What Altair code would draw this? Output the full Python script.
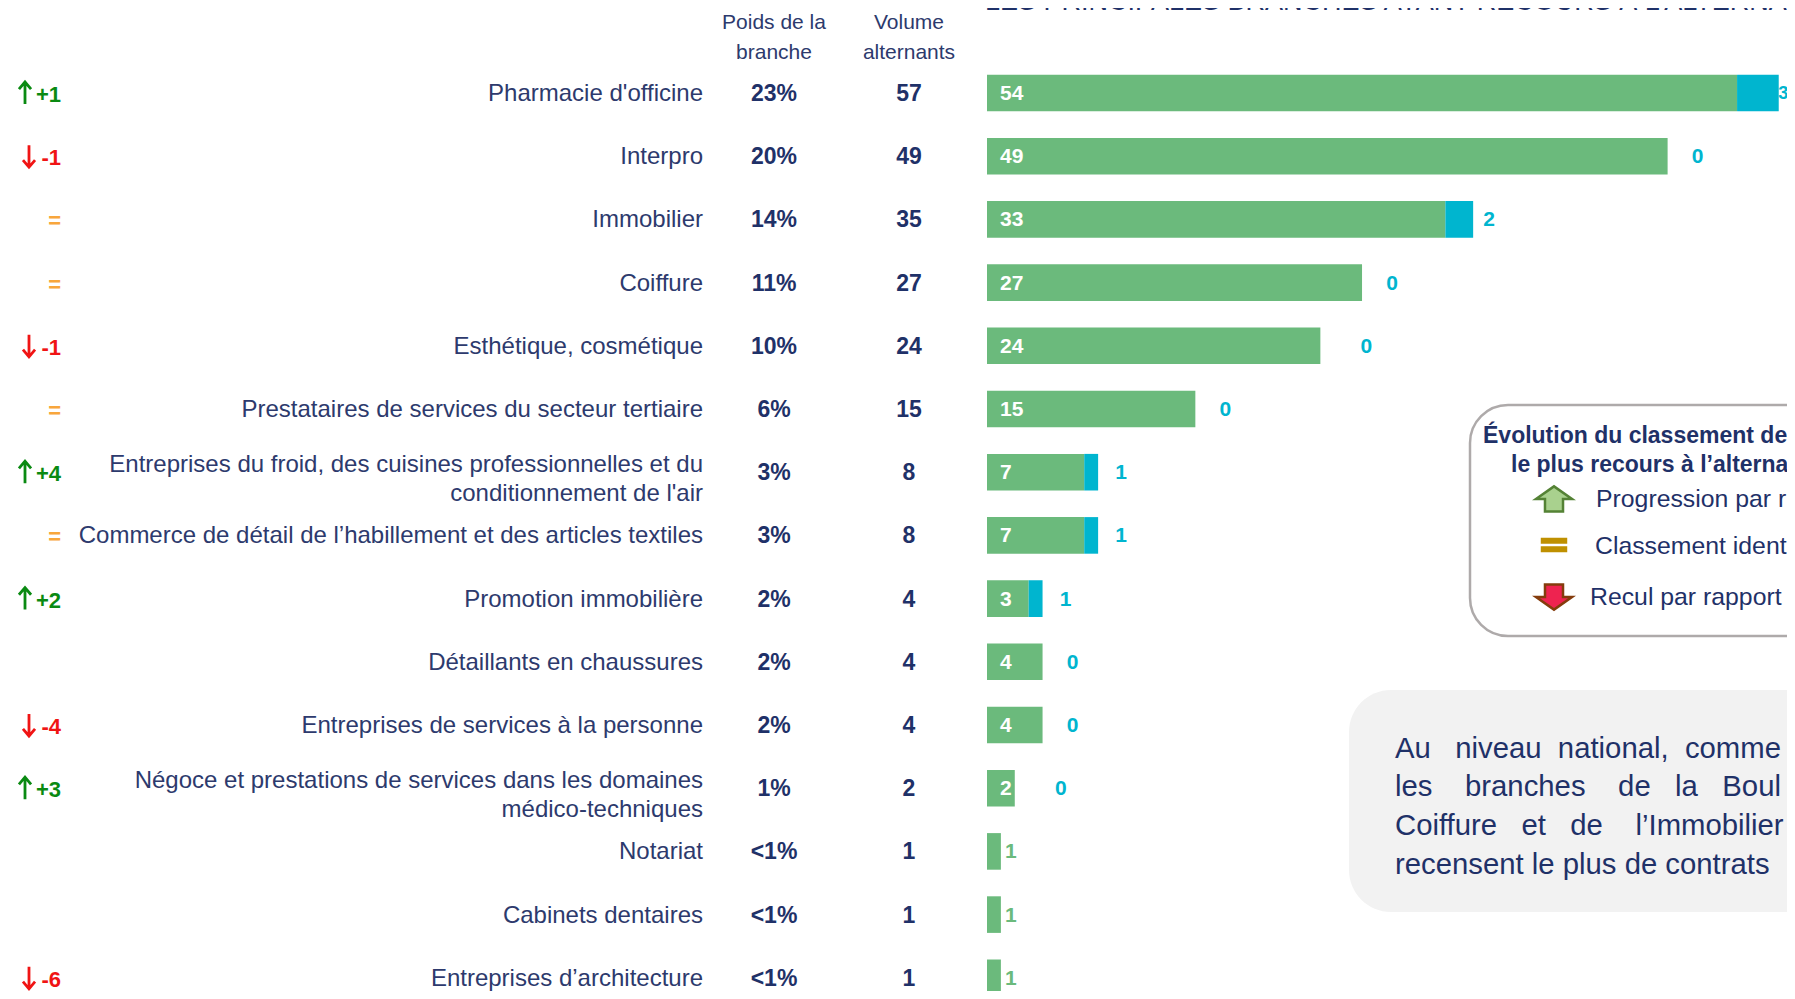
import altair as alt
import pandas as pd

names = [
    "Pharmacie d'officine", "Interpro", "Immobilier", "Coiffure",
    "Esthétique, cosmétique", "Prestataires de services du secteur tertiaire",
    "Entreprises du froid, des cuisines professionnelles et du\nconditionnement de l'air",
    "Commerce de détail de l’habillement et des articles textiles",
    "Promotion immobilière", "Détaillants en chaussures",
    "Entreprises de services à la personne",
    "Négoce et prestations de services dans les domaines\nmédico-techniques",
    "Notariat", "Cabinets dentaires", "Entreprises d’architecture",
]
poids = ["23%", "20%", "14%", "11%", "10%", "6%", "3%", "3%", "2%", "2%", "2%", "1%", "<1%", "<1%", "<1%"]
volume = [57, 49, 35, 27, 24, 15, 8, 8, 4, 4, 4, 2, 1, 1, 1]
green = [54, 49, 33, 27, 24, 15, 7, 7, 3, 4, 4, 2, 1, 1, 1]
blue = [3, 0, 2, 0, 0, 0, 1, 1, 1, 0, 0, 0, 0, 0, 0]
rank = ["+1", "-1", "=", "=", "-1", "=", "+4", "=", "+2", "", "-4", "+3", "", "", "-6"]

header_poids = ["Poids de la", "branche"]
header_volume = ["Volume", "alternants"]
title_text = "LES PRINCIPALES BRANCHES AYANT RECOURS À L’ALTERNANCE"
legend_title = ["Évolution du classement de", "le plus recours à l’alterna"]
legend_items = ["Progression par r", "Classement ident", "Recul par rapport"]
NB = "\u00a0"
note_lines = [
    f"Au{NB*3}niveau{NB*2}national,{NB*2}comme",
    f"les{NB*4}branches{NB*4}de{NB*3}la{NB*3}Boul",
    f"Coiffure{NB*3}et{NB*3}de{NB*4}l’Immobilier",
    "recensent le plus de contrats",
]

W, H = 1779, 983
PX = 13.89      # pixels per unit
X0 = 979        # x of value 0 in the svg
STEP = 63.2     # row step
NAVY = "#1f3168"
TXT = "#2d3a6d"
GREEN = "#6bba7c"
TEAL = "#00b5cf"
FONT = "Liberation Sans"

df = pd.DataFrame({"name": names, "poids": poids, "volume": volume, "green": green, "blue": blue, "rank": rank})
df["zero"] = 0
df["total"] = df["green"] + df["blue"]
two_lines = df["name"].str.contains("\n")

x_s = alt.Scale(domain=[-X0 / PX, (W - X0) / PX], range=[0, W])
y0 = 85 - STEP / 2
y_s = alt.Scale(domain=names, range=[y0, y0 + STEP * 15], paddingInner=1 - 36.6 / STEP, paddingOuter=(1 - 36.6 / STEP) / 2)
X = lambda f: alt.X(f, type="quantitative", scale=x_s, axis=None, stack=None)
Y = alt.Y("name:N", scale=y_s, axis=None, sort=None)


def base(d=df):
    return alt.Chart(d)


layers = []

# bars
layers.append(base().mark_bar(color=GREEN, cornerRadius=0).encode(x=X("zero"), x2="green:Q", y=Y))
layers.append(base(df[df.blue > 0]).mark_bar(color=TEAL, cornerRadius=0).encode(x=X("green"), x2="total:Q", y=Y))

# labels inside the bars
layers.append(
    base(df[df.total > 1]).mark_text(align="left", dx=13, dy=1, font=FONT, fontSize=21, fontWeight="bold", color="white")
    .encode(x=X("zero"), y=Y, text="green:Q")
)

# labels after the bars, grouped by their gap
gap_groups = {16: [2], 23: [6, 7, 8], 30: [1, 3, 5, 9, 10], 46: [4, 11]}
for gap, rows in gap_groups.items():
    layers.append(
        base(df.iloc[rows]).mark_text(align="center", dx=gap, dy=1, font=FONT, fontSize=21, fontWeight="bold", color=TEAL)
        .encode(x=X("total"), y=Y, text="blue:Q")
    )
layers.append(
    base(df.iloc[[0]]).mark_text(align="center", dx=4.5, dy=1, font=FONT, fontSize=18, fontWeight="bold", color=TEAL)
    .encode(x=X("total"), y=Y, text="blue:Q")
)
layers.append(
    base(df.iloc[[12, 13, 14]]).mark_text(align="center", dx=10, dy=1, font=FONT, fontSize=21, fontWeight="bold", color=GREEN)
    .encode(x=X("total"), y=Y, text="green:Q")
)

# text columns
layers.append(
    base(df[~two_lines]).mark_text(align="right", dy=1, font=FONT, fontSize=24, color=TXT)
    .encode(x=alt.value(695), y=Y, text="name:N")
)
layers.append(
    base(df[two_lines]).mark_text(align="right", dy=-7, font=FONT, fontSize=24, color=TXT, lineBreak="\n", lineHeight=29)
    .encode(x=alt.value(695), y=Y, text="name:N")
)
layers.append(
    base().mark_text(align="center", dy=1, font=FONT, fontSize=23, fontWeight="bold", color=NAVY)
    .encode(x=alt.value(766), y=Y, text="poids:N")
)
layers.append(
    base().mark_text(align="center", dy=1, font=FONT, fontSize=23, fontWeight="bold", color=NAVY)
    .encode(x=alt.value(901), y=Y, text="volume:Q")
)

# ranking changes
up = df[df["rank"].str.startswith("+")]
down = df[df["rank"].str.startswith("-")]
same = df[df["rank"] == "="]
UP = "M0,1L0,-1M-.55,-.35L0,-1L.55,-.35"
DOWN = "M0,-1L0,1M-.55,.35L0,1L.55,.35"
for sub, col, sh, xpos in [(up, "#0a8a12", UP, 17), (down, "#f01414", DOWN, 21), (same, "#f8a63c", None, None)]:
    layers.append(
        base(sub).mark_text(align="right", dy=2, font=FONT, fontSize=22, fontWeight="bold", color=col)
        .encode(x=alt.value(53), y=Y, text="rank:N")
    )
    if sh:
        layers.append(
            base(sub).mark_point(shape=sh, filled=False, size=484, strokeWidth=2.8, color=col, opacity=1)
            .encode(x=alt.value(xpos), y=Y)
        )


# one-row helper
def note(text, x, y, size, color=NAVY, align="left", weight="normal"):
    return (
        alt.Chart(pd.DataFrame({"t": [text]}))
        .mark_text(align=align, baseline="middle", font=FONT, fontSize=size, fontWeight=weight, color=color)
        .encode(x=alt.value(x), y=alt.value(y), text="t:N")
    )


def box(x, x2, y, y2, r, fill, stroke=None, sw=0):
    kw = dict(cornerRadius=r, fill=fill, strokeWidth=sw)
    if stroke:
        kw["stroke"] = stroke
    return (
        alt.Chart(pd.DataFrame({"k": [0]}))
        .mark_rect(**kw)
        .encode(x=alt.value(x), x2=alt.value(x2), y=alt.value(y), y2=alt.value(y2))
    )


def icon(shape, x, y, size, fill, stroke=None):
    kw = dict(shape=shape, filled=True, fill=fill, size=size, opacity=1, strokeWidth=2.5 if stroke else 0)
    if stroke:
        kw["stroke"] = stroke
    return alt.Chart(pd.DataFrame({"k": [0]})).mark_point(**kw).encode(x=alt.value(x), y=alt.value(y))


# headers
for i, t in enumerate(header_poids):
    layers.append(note(t, 766, 15 + 29.5 * i, 21, TXT, "center"))
for i, t in enumerate(header_volume):
    layers.append(note(t, 901, 15 + 29.5 * i, 21, TXT, "center"))
layers.append(note(title_text, 977, -6, 27, NAVY))

# legend
layers.append(box(1462, 1900, 397, 628, 38, "white", "#aeaaaa", 2.5))
layers.append(note(legend_title[0], 1475, 427.5, 23, NAVY, weight="bold"))
layers.append(note(legend_title[1], 1503, 456.5, 23, NAVY, weight="bold"))
layers.append(note(legend_items[0], 1588, 492, 24.8, NAVY))
layers.append(note(legend_items[1], 1587, 539, 24.8, NAVY))
layers.append(note(legend_items[2], 1582, 590, 24.8, NAVY))
layers.append(icon("M-1,0L0,-.7L1,0L.5,0L.5,.7L-.5,.7L-.5,0Z", 1546, 491, 1300, "#a9d18e", "#548235"))
layers.append(icon("M-1,-.55H1V-.1H-1ZM-1,.1H1V.55H-1Z", 1546, 537, 700, "#bf9000"))
layers.append(icon("M-1,0L0,.7L1,0L.5,0L.5,-.7L-.5,-.7L-.5,0Z", 1546, 589, 1300, "#ee2350", "#843c0c"))

# note
layers.append(box(1341, 1900, 682, 904, 42, "#f2f2f2"))
for i, t in enumerate(note_lines):
    layers.append(note(t, 1387, 740.5 + 38.8 * i, 29.3, NAVY))

chart = (
    alt.layer(*layers)
    .properties(width=W, height=H, padding=0, autosize=alt.AutoSizeParams(type="none"), background="white")
    .configure_view(stroke=None)
)
chart.save("out.html", embed_options={"renderer": "svg", "actions": False})
